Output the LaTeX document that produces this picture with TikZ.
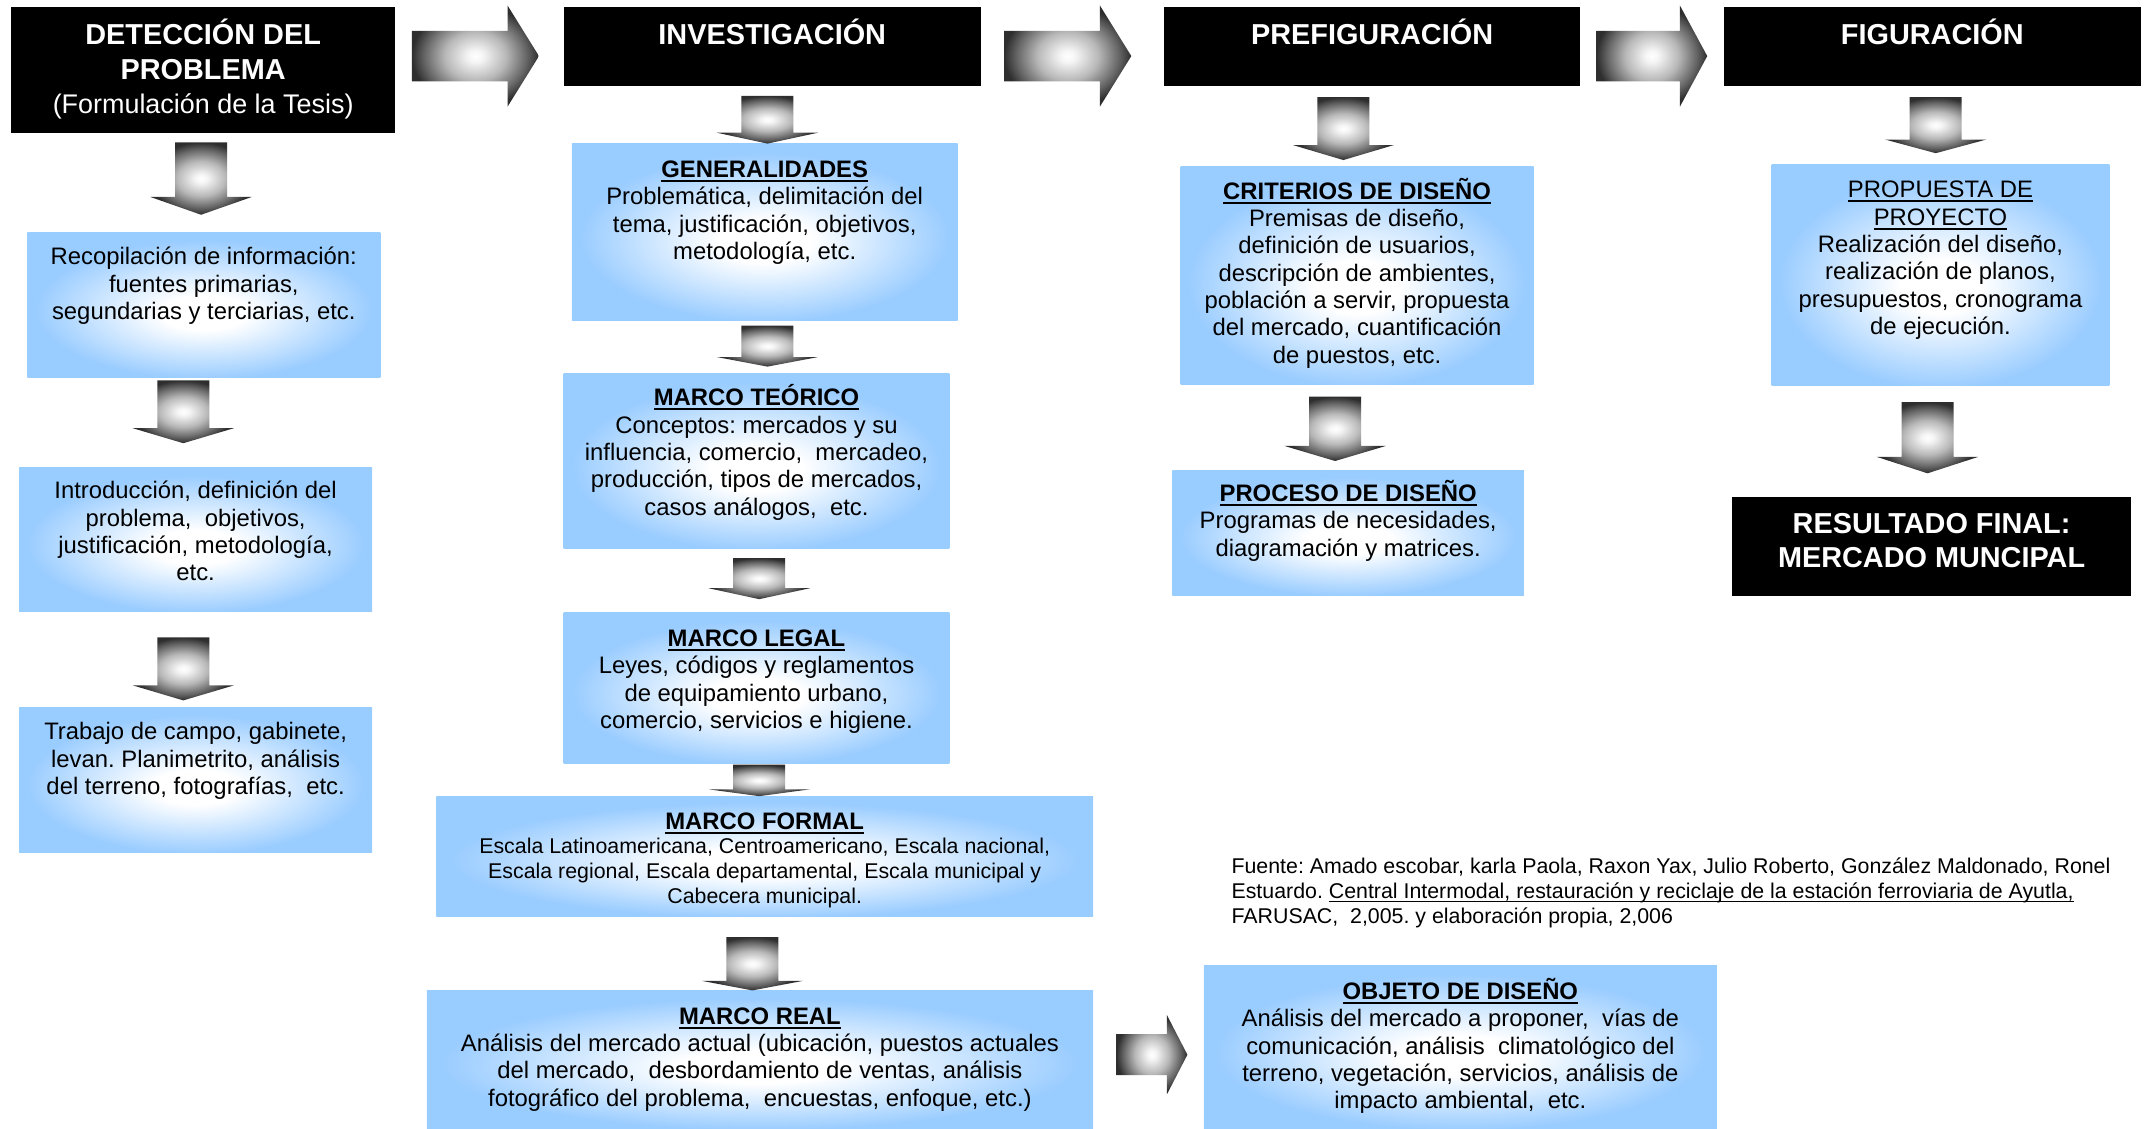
\documentclass[tikz,border=0pt]{standalone}
\usepackage{fontspec}
\setmainfont{Liberation Sans}
\frenchspacing
\definecolor{lblue}{HTML}{99CCFF}
\pgfdeclareradialshading{bluesh}{\pgfpoint{0bp}{-3bp}}{color(0bp)=(white); color(6bp)=(white); color(15bp)=(lblue!50!white); color(24bp)=(lblue); color(50bp)=(lblue)}
\pgfdeclareradialshading{arrowsh}{\pgfpoint{0bp}{0bp}}{color(0bp)=(white); color(3bp)=(white!96!black); color(12bp)=(black!28); color(20bp)=(black!60); color(25bp)=(black!82); color(50bp)=(black!82)}
\newcommand\Sx{\rule{0pt}{1em}}
\newcommand\ulx[1]{\setbox0=\hbox{#1}\rlap{\rule[-2.3pt]{\wd0}{1.1pt}}\box0}
\newcommand\ulf[1]{\setbox0=\hbox{#1}\rlap{\rule[-1.9pt]{\wd0}{0.6pt}}\box0}
\newcommand\mkbox[6]{\node[#1, anchor=north west, minimum width={(#5-#3)*0.25mm}, minimum height={(#6-#4)*0.25mm}] (#2) at (#3,#4) {};}
\newcommand\darrow[4]{\path[blockarrow] ({#1-19},#2) -- ({#1+19},#2) -- ({#1+19},#3) -- ({#1+37},#3) -- (#1,#4) -- ({#1-37},#3) -- ({#1-19},#3) -- cycle;}
\newcommand\rarrow[6]{\path[blockarrow] (#1,{#2-#5}) -- (#3,{#2-#5}) -- (#3,{#2-#6}) -- (#4,#2) -- (#3,{#2+#6}) -- (#3,{#2+#5}) -- (#1,{#2+#5}) -- cycle;}
\tikzset{
  bluebox/.style={shade, shading=bluesh, inner sep=0pt, outer sep=0pt, draw=none},
  blackbox/.style={fill=black, inner sep=0pt, outer sep=0pt, draw=none},
  wtxt/.style={text=white, align=center, inner sep=0pt, anchor=north, font=\fontsize{15}{17.8}\selectfont\bfseries},
  btxt/.style={align=center, inner sep=0pt, anchor=north, font=\fontsize{12.4}{14.2}\selectfont},
  stxt/.style={align=center, inner sep=0pt, anchor=north, font=\fontsize{11.1}{12.8}\selectfont},
  blockarrow/.style={shade, shading=arrowsh, draw=none}
}
\begin{document}
\begin{tikzpicture}[x=0.25mm, y=-0.25mm]
\useasboundingbox (0,0) rectangle (1568,825);

% black headers
\mkbox{blackbox}{det}{8}{5}{289}{97}
\mkbox{blackbox}{inv}{412}{5}{717}{63}
\mkbox{blackbox}{pre}{851}{5}{1155}{63}
\mkbox{blackbox}{fig}{1260}{5}{1565}{63}
\mkbox{blackbox}{res}{1266}{363}{1558}{436}

% blue boxes
\mkbox{bluebox}{rec}{20}{170}{278}{276}
\mkbox{bluebox}{intro}{14}{342}{272}{447}
\mkbox{bluebox}{trab}{14}{517}{272}{623}
\mkbox{bluebox}{gen}{418}{105}{700}{234}
\mkbox{bluebox}{teo}{412}{273}{694}{401}
\mkbox{bluebox}{leg}{412}{448}{694}{558}
\mkbox{bluebox}{for}{319}{582}{799}{670}
\mkbox{bluebox}{real}{312}{724}{799}{825}
\mkbox{bluebox}{cri}{863}{122}{1121}{281}
\mkbox{bluebox}{pro}{857}{344}{1114}{435}
\mkbox{bluebox}{prop}{1295}{120}{1542}{282}
\mkbox{bluebox}{obj}{880}{706}{1255}{825}

% header texts
\node[wtxt] (det-t) at (148.5,11.5) {\Sx DETECCIÓN DEL\\PROBLEMA\\{\mdseries\fontsize{14}{17.8}\selectfont (Formulación de la Tesis)}};
\node[wtxt] (inv-t) at (564.5,11.5) {\Sx INVESTIGACIÓN};
\node[wtxt] (pre-t) at (1003,11.5) {\Sx PREFIGURACIÓN};
\node[wtxt] (fig-t) at (1412.5,11.5) {\Sx FIGURACIÓN};
\node[wtxt] (res-t) at (1412,368.5) {\Sx RESULTADO FINAL:\\MERCADO MUNCIPAL};

% left column texts
\node[btxt] (rec-t) at (149,176) {\Sx Recopilación de información:\\fuentes primarias,\\segundarias y terciarias, etc.};
\node[btxt] (intro-t) at (143,347) {\Sx Introducción, definición del\\problema,~ objetivos,\\justificación, metodología,\\etc.};
\node[btxt] (trab-t) at (143,523) {\Sx Trabajo de campo, gabinete,\\levan. Planimetrito, análisis\\del terreno, fotografías,~ etc.};

% middle column texts
\node[btxt] (gen-t) at (559,112) {\Sx\ulx{\bfseries GENERALIDADES}\\Problemática, delimitación del\\tema, justificación, objetivos,\\metodología, etc.};
\node[btxt] (teo-t) at (553,279) {\Sx\ulx{\bfseries MARCO TEÓRICO}\\Conceptos: mercados y su\\influencia, comercio,~ mercadeo,\\producción, tipos de mercados,\\casos análogos,~ etc.};
\node[btxt] (leg-t) at (553,455) {\Sx\ulx{\bfseries MARCO LEGAL}\\Leyes, códigos y reglamentos\\de equipamiento urbano,\\comercio, servicios e higiene.};
\node[stxt] (for-t) at (559,588.5) {{\fontsize{12.4}{12.8}\selectfont\Sx\ulx{\bfseries MARCO FORMAL}}\\Escala Latinoamericana, Centroamericano, Escala nacional,\\Escala regional, Escala departamental, Escala municipal y\\Cabecera municipal.};
\node[btxt] (real-t) at (555.5,731) {\Sx\ulx{\bfseries MARCO REAL}\\Análisis del mercado actual (ubicación, puestos actuales\\del mercado,~ desbordamiento de ventas, análisis\\fotográfico del problema,~ encuestas, enfoque, etc.)};

% right columns texts
\node[btxt] (cri-t) at (992,128) {\Sx\ulx{\bfseries CRITERIOS DE DISEÑO}\\Premisas de diseño,\\definición de usuarios,\\descripción de ambientes,\\población a servir, propuesta\\del mercado, cuantificación\\de puestos, etc.};
\node[btxt] (pro-t) at (985.5,349) {\Sx\ulx{\bfseries PROCESO DE DISEÑO}\\Programas de necesidades,\\diagramación y matrices.};
\node[btxt] (prop-t) at (1418.5,127) {\Sx\ulx{PROPUESTA DE}\\\ulx{PROYECTO}\\Realización del diseño,\\realización de planos,\\presupuestos, cronograma\\de ejecución.};
\node[btxt] (obj-t) at (1067.5,713) {\Sx\ulx{\bfseries OBJETO DE DISEÑO}\\Análisis del mercado a proponer,~ vías de\\comunicación, análisis~ climatológico del\\terreno, vegetación, servicios, análisis de\\impacto ambiental,~ etc.};

% source note
\node[stxt, align=left, anchor=north west] (fuente) at (900,623) {\Sx Fuente: Amado escobar, karla Paola, Raxon Yax, Julio Roberto, González Maldonado, Ronel\\Estuardo. \ulf{Central Intermodal, restauración y reciclaje de la estación ferroviaria de Ayutla,}\\FARUSAC,~ 2,005. y elaboración propia, 2,006};

% right block arrows
\rarrow{301}{41}{371}{394}{18.5}{37}
\rarrow{734}{41}{804}{827}{18.5}{37}
\rarrow{1167}{41}{1228}{1248}{18.5}{37}
\rarrow{816}{771}{853}{868}{15}{29}

% down block arrows
\darrow{147}{104}{144}{157}
\darrow{134}{278}{313}{324}
\darrow{134}{466}{501}{512}
\darrow{561}{70}{97}{105}
\darrow{561}{238}{261}{268}
\darrow{555}{408}{430}{438}
\darrow{555}{559}{577}{582}
\darrow{550}{685}{717}{724}
\darrow{982}{71}{106}{117}
\darrow{976}{290}{326}{337}
\darrow{1415}{71}{102}{112}
\darrow{1409}{294}{334}{346}
\end{tikzpicture}
\end{document}
